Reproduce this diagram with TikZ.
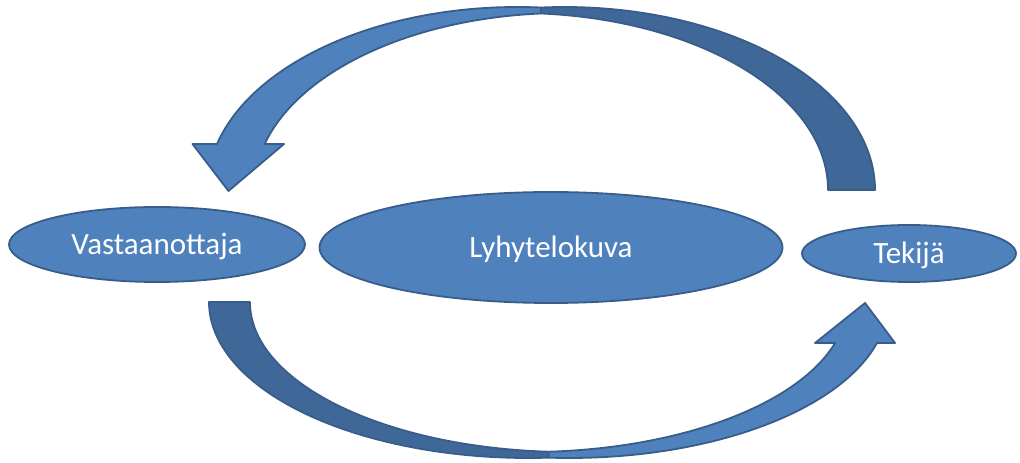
\documentclass[tikz,border=0pt]{standalone}
\usepackage{fontspec}
\setmainfont{Carlito}
\usetikzlibrary{shapes.geometric}
\definecolor{fillblue}{HTML}{4F81BD}
\definecolor{backblue}{HTML}{3F6797}
\definecolor{edgeblue}{HTML}{385D8A}
\tikzset{
  bubble/.style={ellipse, draw=edgeblue, fill=fillblue, line width=1.8pt, inner sep=0pt,
    text=white, font=\fontsize{31}{31}\selectfont, text height=20pt, text depth=0pt},
  frontpart/.style={draw=edgeblue, fill=fillblue, line width=1.8pt, line join=round},
  backpart/.style={draw=edgeblue, fill=backblue, line width=1.8pt, line join=round}
}
\begin{document}
\begin{tikzpicture}[x=1pt,y=1pt]
\useasboundingbox (0,0) rectangle (1020,463);
% nodes
\node[bubble, minimum width=296pt, minimum height=75pt] (vast) at (157,218.5) {Vastaanottaja};
\node[bubble, minimum width=463pt, minimum height=111pt] (lyhy) at (551,215.5) {Lyhytelokuva};
\node[bubble, minimum width=214pt, minimum height=57pt] (teki) at (909,209.5) {Tekijä};
% top arrow: from Tekija to Vastaanottaja
\coordinate (ttail) at (875,273);
\coordinate (thead) at (217,319);
\draw[backpart] (ttail) arc[start angle=0, end angle=94.34, x radius=310.5pt, y radius=183pt]
  -- (541,449.5) arc[start angle=85.66, end angle=0, x radius=310.5pt, y radius=177pt] -- cycle;
\draw[frontpart] (thead) arc[start angle=165.44, end angle=85.66, x radius=310.5pt, y radius=183pt]
  -- (541,449.5) arc[start angle=94.34, end angle=164.94, x radius=310.5pt, y radius=177pt]
  -- (284,319) -- (228.5,272) -- (192.5,319) -- cycle;
% bottom arrow: from Vastaanottaja to Tekija
\coordinate (btail) at (209,161);
\coordinate (bhead) at (877,120);
\draw[backpart] (btail) arc[start angle=180, end angle=273.68, x radius=319.1pt, y radius=156pt]
  -- (548.6,11.3) arc[start angle=266.32, end angle=180, x radius=319.1pt, y radius=150pt] -- cycle;
\draw[frontpart] (bhead) arc[start angle=344.76, end angle=266.32, x radius=319.1pt, y radius=156pt]
  -- (548.6,11.3) arc[start angle=273.68, end angle=344.14, x radius=319.1pt, y radius=150pt]
  -- (815,120) -- (865,160) -- (895,120) -- cycle;
\end{tikzpicture}
\end{document}
